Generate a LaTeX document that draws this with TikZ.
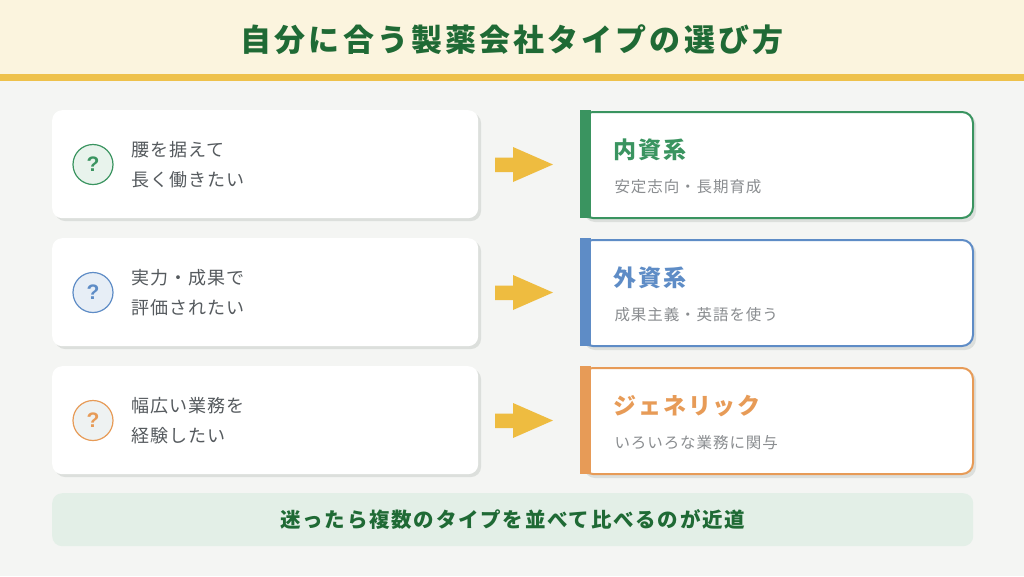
\documentclass[tikz,border=0pt]{standalone}
\usepackage{fontspec}
\setmainfont{Noto Sans CJK JP}
\newfontfamily\qfont{Liberation Sans}
\definecolor{bgc}{HTML}{F4F5F3}
\definecolor{headc}{HTML}{FBF4DE}
\definecolor{goldc}{HTML}{EEC14B}
\definecolor{titlec}{HTML}{1F6A35}
\definecolor{arrowc}{HTML}{EEBC40}
\definecolor{shadowc}{HTML}{DCDFDC}
\definecolor{txtc}{HTML}{555A5E}
\definecolor{subc}{HTML}{8A8D90}
\definecolor{greenc}{HTML}{3A9460}
\definecolor{bluec}{HTML}{5E8CC6}
\definecolor{orangec}{HTML}{E79B57}
\definecolor{greenl}{HTML}{E8F3EC}
\definecolor{bluel}{HTML}{E7EEF6}
\definecolor{orangel}{HTML}{EEF2F2}
\definecolor{barc}{HTML}{E3EFE7}
\tikzset{
  lcard/.style={fill=white, rounded corners=10pt, minimum width=426pt, minimum height=108pt, inner sep=0pt, anchor=north west},
  rcard/.style={fill=white, line width=2pt, rounded corners=11pt, minimum width=391pt, minimum height=106pt, inner sep=0pt, anchor=north west},
  qcircle/.style={circle, line width=1.2pt, minimum size=40pt, inner sep=0pt, font=\qfont\bfseries\fontsize{21}{21}\selectfont},
  ltext/.style={anchor=west, align=left, text=txtc, font=\addfontfeature{LetterSpace=6}\fontsize{18}{30}\selectfont},
  rtitle/.style={anchor=west, font=\bfseries\addfontfeature{LetterSpace=8}\fontsize{23}{23}\selectfont},
  rsub/.style={anchor=west, text=subc, font=\addfontfeature{LetterSpace=6}\fontsize{15.5}{15.5}\selectfont},
  blockarrow/.style={fill=arrowc},
}
\begin{document}
\begin{tikzpicture}[x=1pt,y=-1pt]
\useasboundingbox (0,0) rectangle (1024,576);
\fill[bgc] (0,0) rectangle (1024,576);
\fill[headc] (0,0) rectangle (1024,74);
\fill[goldc] (0,74) rectangle (1024,81);
\node[text=titlec, font=\bfseries\addfontfeature{LetterSpace=10}\fontsize{31}{31}\selectfont] (title) at (512,40) {自分に合う製薬会社タイプの選び方};

\foreach \i/\c/\cl/\la/\lb/\rt/\rs in {
  1/greenc/greenl/腰を据えて/長く働きたい/内資系/安定志向・長期育成,
  2/bluec/bluel/実力・成果で/評価されたい/外資系/成果主義・英語を使う,
  3/orangec/orangel/幅広い業務を/経験したい/ジェネリック/いろいろな業務に関与}{
  \pgfmathsetmacro{\yy}{110+128*(\i-1)}
  % left card
  \fill[shadowc, rounded corners=10pt] (55,\yy+3) rectangle (481,\yy+111);
  \node[lcard] (q\i) at (52,\yy) {};
  \node[qcircle, draw=\c, fill=\cl, text=\c] (c\i) at (93,\yy+54.5) {?};
  \node[ltext] (t\i) at (128,\yy+55) {\la\\\lb};
  % arrow
  \fill[blockarrow] (495,\yy+47.5) -- (513,\yy+47.5) -- (513,\yy+37) -- (553,\yy+54.5) -- (513,\yy+72) -- (513,\yy+62) -- (495,\yy+62) -- cycle;
  % right card
  \fill[shadowc, rounded corners=11pt] (584,\yy+4) rectangle (976,\yy+112);
  \node[rcard, draw=\c] (r\i) at (581,\yy+1) {};
  \fill[\c] (580,\yy) rectangle (591,\yy+108);
  \node[rtitle, text=\c] (h\i) at (610,\yy+40) {\rt};
  \node[rsub] (s\i) at (611,\yy+77) {\rs};
}

\node[fill=barc, rounded corners=10pt, minimum width=921pt, minimum height=53pt, inner sep=0pt, anchor=north west] (bar) at (52,493) {};
\node[text=titlec, font=\bfseries\addfontfeature{LetterSpace=8.6}\fontsize{20.5}{20.5}\selectfont] (note) at (bar.center) {迷ったら複数のタイプを並べて比べるのが近道};
\end{tikzpicture}
\end{document}
